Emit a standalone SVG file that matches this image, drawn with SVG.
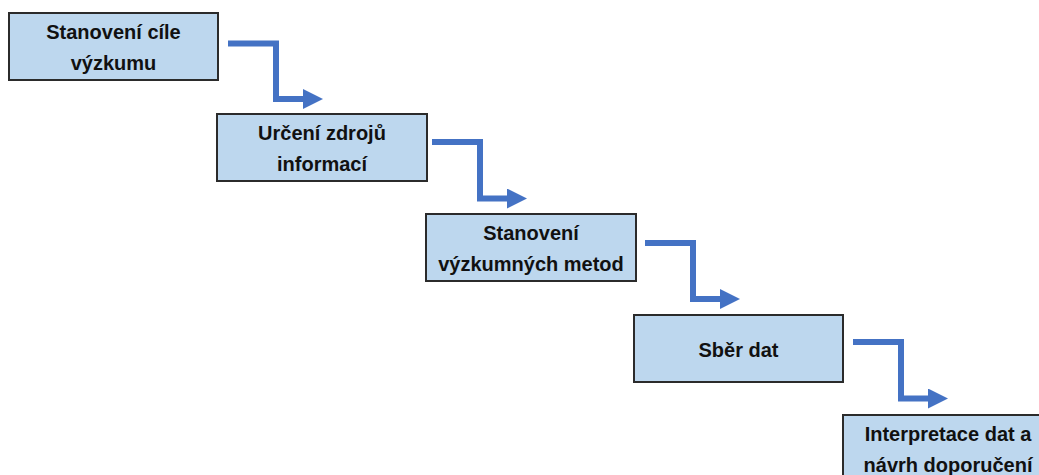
<svg xmlns="http://www.w3.org/2000/svg" width="1039" height="475" viewBox="0 0 1039 475">
  <style>
    .box { fill: #BDD7EE; stroke: #2B2B2B; stroke-width: 2; }
    .lbl { font-family: "Liberation Sans", Arial, sans-serif; font-weight: bold; font-size: 20px; fill: #111; text-anchor: middle; }
    .flow { fill: none; stroke: #4472C4; stroke-width: 6; stroke-linejoin: miter; marker-end: url(#head); }
  </style>
  <defs>
    <marker id="head" markerUnits="userSpaceOnUse" markerWidth="22" markerHeight="22" refX="2" refY="10" orient="auto">
      <polygon points="0,0 20,10 0,20" fill="#4472C4"/>
    </marker>
  </defs>

  <g id="connectors">
    <path class="flow" d="M228,43.5 H276 V99 H305"/>
    <path class="flow" d="M432,142 H480 V198.5 H509"/>
    <path class="flow" d="M645,243 H693 V299 H722"/>
    <path class="flow" d="M853,342 H901 V398.5 H930"/>
  </g>

  <g id="node1">
    <rect class="box" x="9" y="13" width="209" height="67"/>
    <text class="lbl" x="113.5" y="39">Stanovení cíle</text>
    <text class="lbl" x="113.5" y="70">výzkumu</text>
  </g>
  <g id="node2">
    <rect class="box" x="217" y="114" width="210" height="67"/>
    <text class="lbl" x="322" y="140">Určení zdrojů</text>
    <text class="lbl" x="322" y="171">informací</text>
  </g>
  <g id="node3">
    <rect class="box" x="426" y="214" width="210" height="67"/>
    <text class="lbl" x="531" y="240">Stanovení</text>
    <text class="lbl" x="531" y="271">výzkumných metod</text>
  </g>
  <g id="node4">
    <rect class="box" x="634" y="315" width="209" height="67"/>
    <text class="lbl" x="738.5" y="357">Sběr dat</text>
  </g>
  <g id="node5">
    <rect class="box" x="843" y="415" width="210" height="67"/>
    <text class="lbl" x="948" y="441">Interpretace dat a</text>
    <text class="lbl" x="948" y="472">návrh doporučení</text>
  </g>
</svg>
